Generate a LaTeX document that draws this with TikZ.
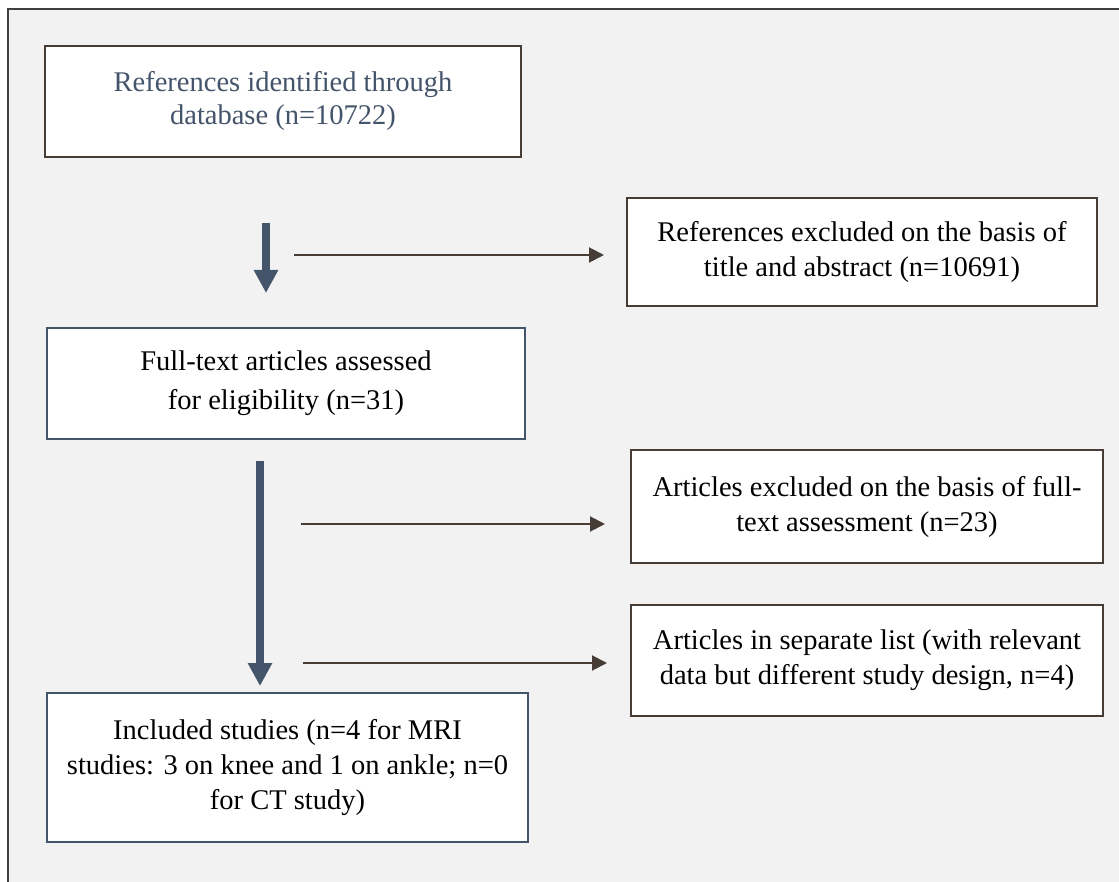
\documentclass[tikz,border=0pt]{standalone}
\usepackage{fontspec}
\setmainfont{Liberation Serif}
\usetikzlibrary{arrows.meta}
\definecolor{bgc}{HTML}{F2F2F2}
\definecolor{framec}{HTML}{404040}
\definecolor{brownc}{HTML}{473D36}
\definecolor{slatec}{HTML}{44546A}
\tikzset{
  pbox/.style={draw=brownc, fill=white, line width=2pt, inner sep=0pt, align=center,
    font={\fontsize{28.5}{35}\selectfont}},
  sbox/.style={pbox, draw=slatec},
  thinarr/.style={draw=brownc, line width=2pt, -{Triangle[length=15pt,width=15pt]}},
  thickarr/.style={draw=slatec, line width=8pt, -{Triangle[length=23pt,width=23pt]}}
}
\begin{document}
\begin{tikzpicture}[x=1pt,y=-1pt]
\useasboundingbox (0,0) rectangle (1119,882);
\fill[bgc] (8,9) rectangle (1125,890);
\draw[framec, line width=1.5pt] (8,890) -- (8,9) -- (1125,9);

\node[pbox, minimum width=476pt, minimum height=111pt, text=slatec,
  font={\fontsize{28.5}{33}\selectfont}] (ref) at (283,101.5)
  {References identified through\\database (n=10722)};
\node[pbox, minimum width=470pt, minimum height=108pt] (ex1) at (862,252)
  {References excluded on the basis of\\title and abstract (n=10691)};
\node[sbox, minimum width=478pt, minimum height=111pt,
  font={\fontsize{28.5}{39}\selectfont}] (full) at (286,383.5)
  {Full-text articles assessed\\ for eligibility (n=31)};
\node[pbox, minimum width=472pt, minimum height=113pt] (ex2) at (867,506.5)
  {Articles excluded on the basis of full-\\text assessment (n=23)};
\node[pbox, minimum width=472pt, minimum height=111pt] (sep) at (867,660)
  {Articles in separate list (with relevant\\data but different study design, n=4)};
\node[sbox, minimum width=481pt, minimum height=149pt] (inc) at (287.5,767.5)
  {Included studies (n=4 for MRI\\studies: 3 on knee and 1 on ankle; n=0\\for CT study)};

\coordinate (a1s) at (266,223);
\coordinate (a1e) at (266,293);
\coordinate (a2s) at (260,461);
\coordinate (a2e) at (260,686);
\coordinate (t1) at (294,255);
\coordinate (t2) at (301,524);
\coordinate (t3) at (303,663);

\draw[thickarr] (a1s) -- (a1e);
\draw[thickarr] (a2s) -- (a2e);
\draw[thinarr, shorten >=22pt] (t1) -- (t1 -| ex1.west);
\draw[thinarr, shorten >=25pt] (t2) -- (t2 -| ex2.west);
\draw[thinarr, shorten >=23pt] (t3) -- (t3 -| sep.west);
\end{tikzpicture}
\end{document}
